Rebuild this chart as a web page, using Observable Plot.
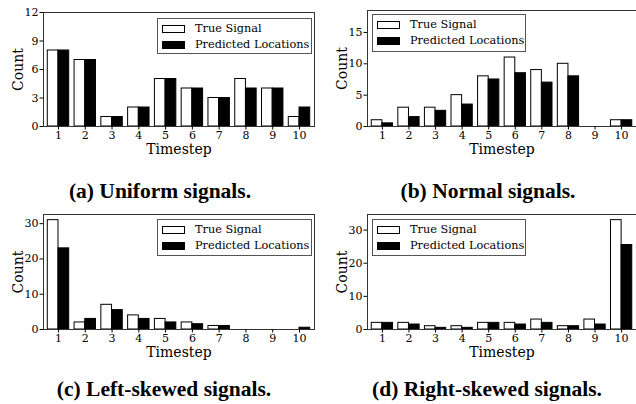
<!DOCTYPE html>
<html>
<head>
<meta charset="utf-8">
<script src="https://cdn.jsdelivr.net/npm/d3@7"></script>
<script src="https://cdn.jsdelivr.net/npm/@observablehq/plot@0.6"></script>
<style>
  html, body { margin: 0; padding: 0; background: #fff; }
  #root { position: relative; width: 636px; height: 404px; overflow: hidden; background: #fff; }
  .panel { position: absolute; width: 318px; }
  .panel svg { display: block; overflow: visible; }
  .legend { position: absolute; border: 1px solid #555; background: #fff; box-sizing: border-box;
            font-family: "DejaVu Serif", serif; font-size: 11.3px; color: #000; }
  .legend .row { position: absolute; left: 0; height: 14px; line-height: 14px; white-space: nowrap; }
  .legend .sw { position: absolute; left: 4px; top: 3px; width: 23px; height: 8px; border: 1px solid #000; box-sizing: border-box; }
  .legend .lab { position: absolute; left: 37px; top: 0; }
  .caption { position: absolute; font-family: "Liberation Serif", "Times New Roman", serif; font-weight: bold;
             font-size: 21.5px; color: #000; white-space: nowrap; transform: translateX(-50%); line-height: 22px; }
</style>
</head>
<body>
<div id="root"></div>
<script>
// ---- data ----
const timesteps = [1, 2, 3, 4, 5, 6, 7, 8, 9, 10];

const uniformTrue = [8, 7, 1, 2, 5, 4, 3, 5, 4, 1];
const uniformPred = [8, 7, 1, 2, 5, 4, 3, 4, 4, 2];

const normalTrue = [1, 3, 3, 5, 8, 11, 9, 10, 0, 1];
const normalPred = [0.5, 1.5, 2.5, 3.5, 7.5, 8.5, 7, 8, 0, 1];

const leftTrue = [31, 2, 7, 4, 3, 2, 1, 0, 0, 0];
const leftPred = [23, 3, 5.5, 3, 2, 1.5, 1, 0, 0, 0.5];

const rightTrue = [2, 2, 1, 1, 2, 2, 3, 1, 3, 33];
const rightPred = [2, 1.5, 0.5, 0.5, 2, 1.5, 2, 1, 1.5, 25.5];

const seriesNames = ["True Signal", "Predicted Locations"];
const captions = ["(a) Uniform signals.", "(b) Normal signals.", "(c) Left-skewed signals.", "(d) Right-skewed signals."];

const yTicksA = [0, 3, 6, 9, 12];
const yTicksB = [0, 5, 10, 15];
const yTicksC = [0, 10, 20, 30];
const yTicksD = [0, 10, 20, 30];

// ---- layout per panel ----
const panels = [
  {trueV: uniformTrue, predV: uniformPred, yDomain: [0, 12], yTicks: yTicksA, caption: captions[0],
   left: 0, top: 0, height: 160, mL: 43, mR: 4, mT: 12, mB: 34, legend: {x: 157, y: 18, w: 155, h: 36}, capX: 160, capY: 180},
  {trueV: normalTrue, predV: normalPred, yDomain: [0, 18.5], yTicks: yTicksB, caption: captions[1],
   left: 318, top: 0, height: 160, mL: 49, mR: 0, mT: 10, mB: 34, legend: {x: 54, y: 14, w: 154, h: 38}, capX: 170, capY: 180},
  {trueV: leftTrue, predV: leftPred, yDomain: [0, 32.6], yTicks: yTicksC, caption: captions[2],
   left: 0, top: 200, height: 163, mL: 43, mR: 4, mT: 14, mB: 34, legend: {x: 157, y: 19, w: 155, h: 37}, capX: 164, capY: 178},
  {trueV: rightTrue, predV: rightPred, yDomain: [0, 34.7], yTicks: yTicksD, caption: captions[3],
   left: 318, top: 200, height: 163, mL: 49, mR: 0, mT: 14, mB: 34, legend: {x: 54, y: 19, w: 154, h: 37}, capX: 169, capY: 178}
];

const root = document.getElementById("root");

for (const p of panels) {
  const rows = timesteps.map((t, i) => ({t, trueV: p.trueV[i], predV: p.predV[i]}));
  const chart = Plot.plot({
    width: 318,
    height: p.height,
    marginLeft: p.mL,
    marginRight: p.mR,
    marginTop: p.mT,
    marginBottom: p.mB,
    style: {fontFamily: "'DejaVu Serif', serif", fontSize: "11px", color: "#000", background: "transparent"},
    x: {domain: [0.44, 10.56]},
    y: {domain: p.yDomain},
    marks: [
      Plot.rect(rows, {x1: d => d.t - 0.4, x2: d => d.t, y1: 0, y2: "trueV", fill: "white", stroke: "black", strokeWidth: 1}),
      Plot.rect(rows, {x1: d => d.t, x2: d => d.t + 0.4, y1: 0, y2: "predV", fill: "black", stroke: "black", strokeWidth: 1}),
      Plot.frame({stroke: "#333", strokeWidth: 1}),
      Plot.axisX({ticks: timesteps, tickFormat: d => String(d), tickSize: 3.5, tickPadding: 1,
                  label: "Timestep", labelAnchor: "center", labelArrow: false, labelOffset: 27.5, fontSize: 11}),
      Plot.axisY({ticks: p.yTicks, tickFormat: d => String(d), tickSize: 3.5, tickPadding: 1.5,
                  label: "Count", labelAnchor: "center", labelArrow: false, labelOffset: 30, fontSize: 11})
    ]
  });
  // enlarge axis titles
  chart.querySelectorAll("g[aria-label='x-axis label'] text, g[aria-label='y-axis label'] text").forEach(t => t.setAttribute("font-size", "14"));

  const div = document.createElement("div");
  div.className = "panel";
  div.style.left = p.left + "px";
  div.style.top = p.top + "px";
  div.style.height = "200px";
  div.appendChild(chart);

  // legend
  const lg = document.createElement("div");
  lg.className = "legend";
  lg.style.left = p.legend.x + "px";
  lg.style.top = p.legend.y + "px";
  lg.style.width = p.legend.w + "px";
  lg.style.height = p.legend.h + "px";
  const fills = ["#fff", "#000"];
  seriesNames.forEach((name, i) => {
    const r = document.createElement("div");
    r.className = "row";
    r.style.top = (3 + i * 15.5) + "px";
    const sw = document.createElement("div");
    sw.className = "sw";
    sw.style.background = fills[i];
    const lab = document.createElement("span");
    lab.className = "lab";
    lab.textContent = name;
    r.appendChild(sw);
    r.appendChild(lab);
    lg.appendChild(r);
  });
  div.appendChild(lg);

  const cap = document.createElement("div");
  cap.className = "caption";
  cap.style.left = p.capX + "px";
  cap.style.top = p.capY + "px";
  cap.textContent = p.caption;
  div.appendChild(cap);

  root.appendChild(div);
}
</script>
</body>
</html>
